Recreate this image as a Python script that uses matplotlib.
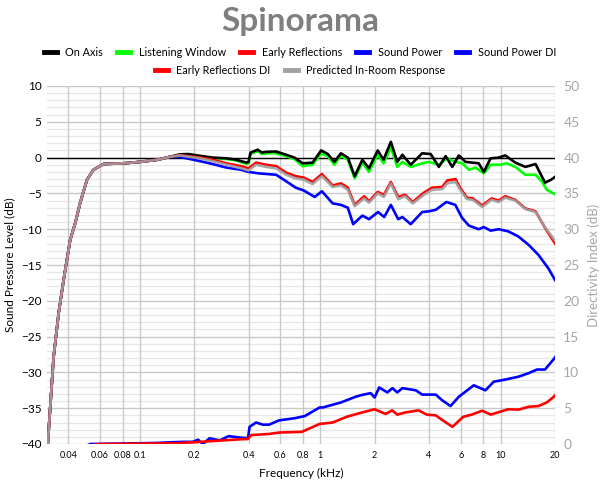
import matplotlib
matplotlib.use("Agg")
import matplotlib.pyplot as plt
from matplotlib.lines import Line2D

plt.rcParams['font.family'] = ['Lato', 'DejaVu Sans']

# ---------------- data (kHz, dB) ----------------
bass_f = [0.0300, 0.0308, 0.0318, 0.0332, 0.0354, 0.0377, 0.0410, 0.0438, 0.0466,
          0.0508, 0.0552, 0.0627, 0.0809, 0.100, 0.125, 0.146]
bass_db = [-41.5, -40.0, -34.8, -27.8, -21.7, -17.1, -11.5, -9.1, -6.3,
           -3.1, -1.7, -0.9, -0.8, -0.6, -0.3, 0.1]

on_f = [0.166, 0.185, 0.215, 0.253, 0.302, 0.342, 0.389, 0.400, 0.410, 0.449, 0.475,
        0.501, 0.569, 0.646, 0.718, 0.798, 0.906, 1.01, 1.10, 1.195, 1.30, 1.42, 1.55,
        1.71, 1.86, 2.08, 2.24, 2.46, 2.67, 2.85, 3.17, 3.67, 4.09, 4.54, 4.95, 5.39,
        5.86, 6.38, 6.95, 7.55, 8.06, 8.79, 9.74, 10.6, 12.05, 13.7, 15.6, 17.6, 19.0, 20.0]
on_db = [0.45, 0.5, 0.25, 0.0, -0.1, -0.3, -0.7, -0.6, 0.7, 1.1, 0.7,
         0.8, 0.85, 0.4, 0.0, -0.8, -0.7, 1.0, 0.5, -0.6, 0.6, 0.0, -2.6,
         -0.3, -1.5, 1.0, -0.3, 2.2, -0.6, 0.4, -1.0, 0.6, 0.5, -1.3, 0.2, -1.3,
         0.3, -0.6, -0.7, -0.8, -2.0, -0.1, 0.0, 0.3, -0.7, -1.3, -0.9, -3.5, -3.1, -2.7]

lw_f = [0.166, 0.185, 0.215, 0.253, 0.302, 0.342, 0.389, 0.400, 0.410, 0.449, 0.475,
        0.501, 0.569, 0.646, 0.718, 0.798, 0.906, 1.01, 1.10, 1.195, 1.30, 1.42, 1.55,
        1.71, 1.86, 2.08, 2.24, 2.46, 2.67, 2.85, 3.17, 3.67, 4.0, 4.54, 5.05, 5.62,
        6.13, 6.66, 7.25, 8.06, 8.79, 9.96, 10.8, 12.05, 13.7, 15.6, 17.0, 18.0, 20.0]
lw_db = [0.4, 0.45, 0.2, -0.1, -0.2, -0.4, -0.9, -0.8, 0.5, 0.9, 0.5,
         0.6, 0.6, 0.2, -0.2, -1.2, -1.0, 0.6, 0.2, -1.0, 0.3, -0.3, -2.9,
         -0.7, -2.0, 0.4, -0.8, 1.4, -1.3, -0.6, -1.3, -0.8, -0.6, -1.0, -0.1, -0.6,
         -0.8, -1.7, -1.4, -2.2, -1.0, -1.0, -0.8, -1.3, -2.4, -2.4, -3.4, -4.5, -5.1]

er_f = [0.166, 0.215, 0.253, 0.302, 0.364, 0.400, 0.44, 0.50, 0.569, 0.646, 0.73,
        0.81, 0.906, 1.02, 1.17, 1.30, 1.42, 1.55, 1.75, 1.86, 2.08, 2.25, 2.46, 2.70,
        2.95, 3.25, 3.75, 4.17, 4.74, 5.05, 5.62, 5.95, 6.5, 7.0, 7.9, 8.9, 9.74,
        10.6, 12.05, 13.7, 15.6, 17.6, 20.0]
er_db = [0.35, 0.0, -0.3, -0.8, -1.2, -1.5, -0.7, -1.0, -1.2, -2.1, -2.6,
         -2.8, -3.4, -2.3, -3.9, -3.6, -4.2, -6.6, -5.4, -6.1, -4.8, -5.2, -3.4, -5.5,
         -5.2, -6.2, -4.9, -4.2, -4.1, -3.2, -3.0, -4.2, -5.6, -5.7, -6.7, -5.7, -6.0,
         -5.4, -5.9, -7.1, -7.5, -9.8, -12.0]

pir_f = er_f
pir_db = [0.3, -0.1, -0.5, -1.0, -1.5, -1.8, -1.0, -1.3, -1.5, -2.4, -2.9,
          -3.1, -3.7, -2.6, -4.1, -3.9, -4.5, -6.8, -5.7, -6.3, -5.0, -5.5, -3.6, -5.8,
          -5.4, -6.4, -5.2, -4.5, -4.4, -3.6, -3.4, -4.5, -5.8, -5.9, -6.9, -5.9, -6.2,
          -5.6, -6.0, -7.2, -7.6, -9.7, -11.6]

sp_f = [0.166, 0.215, 0.253, 0.302, 0.364, 0.400, 0.455, 0.569, 0.646, 0.73, 0.81,
        0.93, 1.02, 1.17, 1.30, 1.42, 1.52, 1.71, 1.86, 2.09, 2.26, 2.46, 2.70, 2.85,
        3.17, 3.67, 4.0, 4.36, 5.0, 5.6, 6.1, 6.66, 7.55, 8.06, 8.79, 9.74, 11.0,
        12.5, 14.3, 16.2, 18.4, 19.8, 20.0]
sp_db = [0.1, -0.5, -0.9, -1.4, -1.7, -2.0, -2.2, -2.4, -3.3, -4.2, -4.6,
         -5.5, -4.7, -6.4, -6.6, -7.0, -9.3, -8.1, -8.6, -7.6, -8.3, -6.6, -8.6, -8.3,
         -9.3, -7.6, -7.5, -7.3, -6.2, -6.6, -8.4, -9.5, -10.0, -9.7, -10.2, -10.0, -10.3,
         -11.0, -12.2, -13.6, -15.5, -16.9, -17.1]

spdi_f = [0.050, 0.053, 0.100, 0.125, 0.152, 0.175, 0.196, 0.210, 0.223, 0.243, 0.277,
          0.310, 0.357, 0.397, 0.405, 0.44, 0.48, 0.52, 0.59, 0.72, 0.82, 0.99, 1.03,
          1.30, 1.57, 1.70, 1.90, 2.00, 2.12, 2.35, 2.51, 2.67, 2.85, 3.38, 3.67, 4.36,
          4.74, 5.27, 5.86, 7.09, 8.23, 9.15, 10.6, 12.55, 14.3, 15.9, 17.6, 19.6, 20.0]
spdi_db = [-0.3, 0.0, 0.1, 0.15, 0.25, 0.3, 0.3, 0.6, 0.0, 0.8, 0.5,
           1.1, 0.9, 0.8, 2.4, 3.0, 2.7, 2.7, 3.3, 3.6, 3.9, 5.1, 5.1,
           5.8, 6.6, 6.85, 7.1, 6.5, 7.9, 7.2, 7.8, 7.2, 7.8, 7.5, 6.9, 6.9,
           6.1, 5.3, 6.6, 8.2, 7.5, 8.7, 9.0, 9.4, 9.9, 10.4, 10.4, 11.8, 12.1]

erdi_f = [0.050, 0.060, 0.100, 0.160, 0.250, 0.357, 0.397, 0.405, 0.414, 0.52, 0.59,
          0.79, 0.99, 1.17, 1.40, 1.70, 2.00, 2.30, 2.50, 2.67, 2.95, 3.50, 3.90, 4.36,
          4.74, 5.40, 6.20, 6.90, 7.90, 8.80, 9.60, 11.0, 12.55, 14.3, 16.2, 18.0, 19.7, 20.0]
erdi_db = [-0.3, 0.0, 0.05, 0.1, 0.4, 0.65, 0.7, 1.0, 1.25, 1.4, 1.6,
           1.7, 2.8, 3.0, 3.8, 4.4, 4.85, 4.2, 4.7, 4.1, 4.4, 4.7, 4.1, 4.0,
           3.35, 2.4, 3.8, 4.1, 4.65, 4.1, 4.4, 4.85, 4.8, 5.2, 5.3, 5.8, 6.6, 6.8]

freq_ticks = [0.04, 0.06, 0.08, 0.1, 0.2, 0.4, 0.6, 0.8, 1, 2, 4, 6, 8, 10, 20]
freq_labels = ["0.04", "0.06", "0.08", "0.1", "0.2", "0.4", "0.6", "0.8", "1", "2",
               "4", "6", "8", "10", "20"]

# colours
C_ON, C_LW, C_ER, C_SP, C_PIR = "#000000", "#00ff00", "#ff0000", "#0000ff", "#a0a0a0"

fig = plt.figure(figsize=(6, 4.8), dpi=100)
ax = fig.add_axes([47/600, 1-444/480, (555-47)/600, (444-86)/480])
ax2 = ax.twinx()

ax.set_xscale("log")
ax.set_xlim(0.0305, 20)
ax.set_ylim(-40, 10)
ax2.set_ylim(0, 50)

# grid
for y in range(-40, 11):
    if y % 5 == 0:
        ax.axhline(y, color="#c8c8c8", lw=1.0, zorder=0)
    else:
        ax.axhline(y, color="#e6e6e6", lw=0.9, zorder=0)
for f in freq_ticks:
    ax.axvline(f, color="#c8c8c8", lw=1.0, zorder=0)
ax.axhline(0, color="black", lw=1.0, zorder=1)

lw_main = 1.9
ax.plot(bass_f + lw_f, bass_db + lw_db, color=C_LW, lw=lw_main, zorder=2.9)
ax.plot(bass_f + on_f, bass_db + on_db, color=C_ON, lw=lw_main, zorder=3)
ax.plot(bass_f + sp_f, bass_db + sp_db, color=C_SP, lw=lw_main, zorder=3.0)
ax.plot(bass_f + er_f, bass_db + er_db, color=C_ER, lw=lw_main, zorder=3.1)
ax.plot(bass_f + pir_f, bass_db + pir_db, color=C_PIR, lw=lw_main, zorder=3.2, alpha=0.9)
ax2.plot(spdi_f, spdi_db, color=C_SP, lw=lw_main)
ax2.plot(erdi_f, erdi_db, color=C_ER, lw=lw_main)
ax2.set_xlim(0.0305, 20)

ax.set_xticks(freq_ticks)
ax.set_xticklabels(freq_labels, fontsize=6.5)
ax.xaxis.set_minor_locator(matplotlib.ticker.NullLocator())
ax.set_yticks(range(-40, 11, 5))
ax.tick_params(axis="both", length=0, pad=4, labelsize=8.5)
ax.tick_params(axis="x", labelsize=6.5, pad=5)
ax2.set_yticks(range(0, 51, 5))
ax2.tick_params(axis="y", length=0, pad=6, labelsize=10, labelcolor="#a6a6a6")

for a in (ax, ax2):
    for s in a.spines.values():
        s.set_visible(False)

ax.set_xlabel("Frequency (kHz)", fontsize=8.5, labelpad=6)
ax.set_ylabel("Sound Pressure Level (dB)", fontsize=8.5, labelpad=4)
ax2.set_ylabel("Directivity Index (dB)", fontsize=9.5, color="#a6a6a6", labelpad=6)

fig.text(0.5, 0.955, "Spinorama", ha="center", va="center", fontsize=24,
         fontweight="bold", color="#7f7f7f")

names1 = ["On Axis", "Listening Window", "Early Reflections", "Sound Power", "Sound Power DI"]
cols1 = [C_ON, C_LW, C_ER, C_SP, C_SP]
names2 = ["Early Reflections DI", "Predicted In-Room Response"]
cols2 = [C_ER, C_PIR]

h1 = [Line2D([0], [0], color=c, lw=3.5) for c in cols1]
h2 = [Line2D([0], [0], color=c, lw=3.5) for c in cols2]
leg_kw = dict(frameon=False, fontsize=7.8, handlelength=1.2, handletextpad=0.8,
              columnspacing=1.3, borderaxespad=0)
fig.legend(h1, names1, loc="center", bbox_to_anchor=(0.5, 1-52/480), ncol=5, **leg_kw)
fig.legend(h2, names2, loc="center", bbox_to_anchor=(0.5, 1-70/480), ncol=2, **leg_kw)

fig.savefig("out.png", dpi=100)
